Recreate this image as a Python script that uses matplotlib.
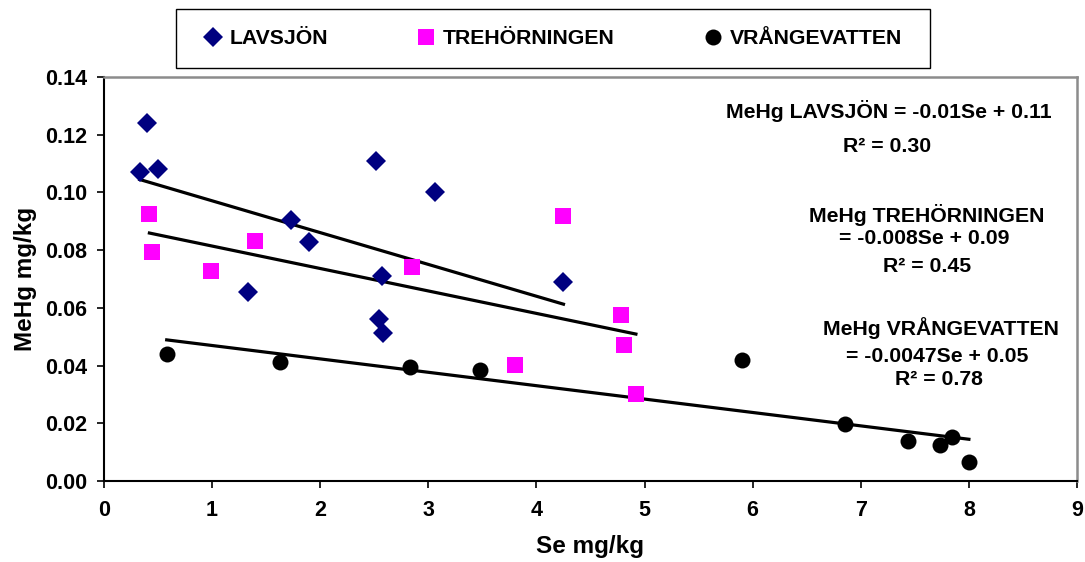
import numpy as np
import matplotlib
matplotlib.use("Agg")
import matplotlib.pyplot as plt
from matplotlib.patches import Rectangle

plt.rcParams['font.family'] = ['Liberation Sans', 'DejaVu Sans']
plt.rcParams['font.weight'] = 'bold'

# Se mg/kg (x) and MeHg mg/kg (y) per lake
lav_se = [0.40, 0.33, 0.50, 2.52, 3.06, 1.73, 1.90, 2.57, 1.33, 2.54, 2.58, 4.25]
lav_mehg = [0.124, 0.107, 0.108, 0.111, 0.100, 0.0905, 0.0828, 0.0710, 0.0655, 0.0561, 0.0512, 0.0690]

tre_se = [0.42, 0.44, 0.99, 1.40, 2.85, 4.25, 4.78, 4.81, 3.80, 4.92]
tre_mehg = [0.0925, 0.0793, 0.0728, 0.0830, 0.0740, 0.0920, 0.0575, 0.0473, 0.0403, 0.0303]

vra_se = [0.58, 1.63, 2.83, 3.48, 5.90, 6.85, 7.44, 7.73, 7.84, 8.00]
vra_mehg = [0.0440, 0.0413, 0.0395, 0.0385, 0.0420, 0.0198, 0.0137, 0.0125, 0.0153, 0.0067]

series = [
    ("LAVSJÖN", lav_se, lav_mehg, "D", "#000080", 10),
    ("TREHÖRNINGEN", tre_se, tre_mehg, "s", "#FF00FF", 11),
    ("VRÅNGEVATTEN", vra_se, vra_mehg, "o", "black", 11.5),
]

eq_lines = [
    "MeHg LAVSJÖN = -0.01Se + 0.11", "R² = 0.30",
    "MeHg TREHÖRNINGEN", "= -0.008Se + 0.09", "R² = 0.45",
    "MeHg VRÅNGEVATTEN", "= -0.0047Se + 0.05", "R² = 0.78",
]
# baseline positions in pixels of the original picture
eq_px = [(889, 118), (887, 152),
         (927, 222), (924, 244), (927, 272),
         (941, 335), (937, 362), (939, 385)]

x_ticks = list(range(0, 10))
y_ticks = [0.00, 0.02, 0.04, 0.06, 0.08, 0.10, 0.12, 0.14]

W, H = 1085, 562
fig = plt.figure(figsize=(W / 100, H / 100), dpi=100)
ax = fig.add_axes([104 / W, 1 - 481 / H, 973 / W, 404 / H])

handles = []
for name, xs, ys, mk, col, ms in series:
    h, = ax.plot(xs, ys, linestyle="none", marker=mk, color=col,
                 markersize=ms, markeredgewidth=0, label=name, zorder=3)
    handles.append(h)
    # linear trendline over the data range
    k, m = np.polyfit(xs, ys, 1)
    xx = np.array([min(xs), max(xs)])
    ax.plot(xx, k * xx + m, color="black", linewidth=2.3, zorder=2)

ax.set_xlim(0, 9)
ax.set_ylim(0, 0.14)
ax.set_xticks(x_ticks)
ax.set_yticks(y_ticks)
ax.set_yticklabels([f"{v:.2f}" for v in y_ticks])
ax.tick_params(direction="out", length=5, width=1.2, labelsize=15.5, color="black")
ax.tick_params(axis="y", pad=7)
ax.tick_params(axis="x", pad=9)

for s in ["left", "bottom"]:
    ax.spines[s].set_color("black")
    ax.spines[s].set_linewidth(1.5)
for s in ["top", "right"]:
    ax.spines[s].set_color("#8c8c8c")
    ax.spines[s].set_linewidth(1.8)

ax.set_xlabel("Se mg/kg", fontsize=17.5, fontweight="bold")
ax.set_ylabel("MeHg mg/kg", fontsize=17.5, fontweight="bold")
ax.xaxis.set_label_coords(0.5, (481 - 535) / 404)
ax.yaxis.set_label_coords((37 - 104) / 973, 0.5)

for txt, (px, py) in zip(eq_lines, eq_px):
    fig.text(px / W, 1 - py / H, txt, ha="center", va="baseline",
             fontsize=15.3, fontweight="bold")

# legend box above the plot
fig.patches.append(Rectangle((176 / W, 1 - 68 / H), 754 / W, 59 / H,
                             transform=fig.transFigure, fill=False,
                             edgecolor="black", linewidth=1.0))
fig.legend(handles=handles, loc="center", bbox_to_anchor=(553 / W, 1 - 39 / H),
           ncol=3, frameon=False, fontsize=15.3, handlelength=0.8,
           handletextpad=0.4, columnspacing=4.2, borderpad=0)

fig.savefig("out.png", dpi=100)
